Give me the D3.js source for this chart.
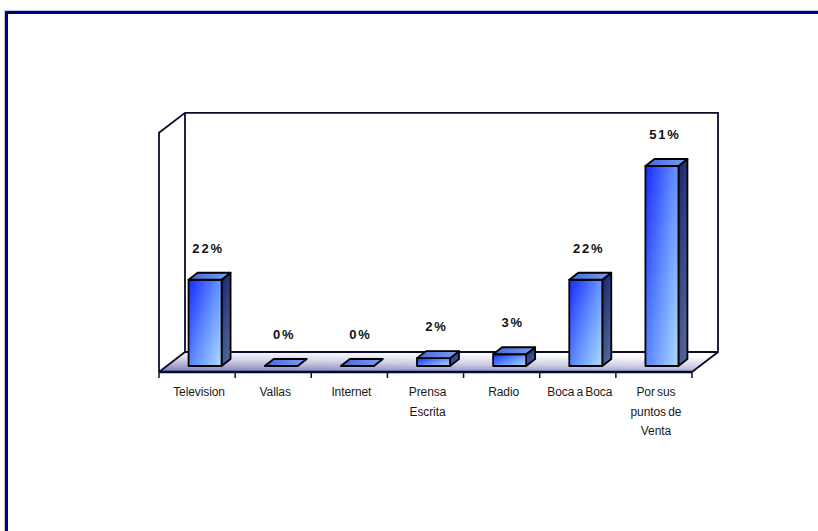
<!DOCTYPE html>
<html>
<head>
<meta charset="utf-8">
<script src="https://cdn.jsdelivr.net/npm/d3@7/dist/d3.min.js"></script>
<style>
  html, body { margin: 0; padding: 0; background: #fff; }
  svg { display: block; }
</style>
</head>
<body>
<svg id="chart" width="818" height="531"></svg>
<script>
// Survey: how customers heard about the store (share of answers)
const categories = ["Television", "Vallas", "Internet", "Prensa Escrita", "Radio", "Boca a Boca", "Por sus puntos de Venta"];
const categoryLines = [["Television"], ["Vallas"], ["Internet"], ["Prensa", "Escrita"], ["Radio"], ["Boca a Boca"], ["Por sus", "puntos de", "Venta"]];
const values = [22, 0, 0, 2, 3, 22, 51];
const valueLabels = ["22%", "0%", "0%", "2%", "3%", "22%", "51%"];

const svg = d3.select("#chart");
const defs = svg.append("defs");

// 3-D box layout
const front = { left: 159, right: 692, bottom: 372 };
const depth = { dx: 26, dy: -20 };          // floor depth (front edge -> back wall)
const barDepth = { dx: 9, dy: -7 };         // depth of each bar
const barInset = { dx: 8, dy: -6 };         // bars sit a little behind the front edge
const barWidth = 33;
const axisMax = 61;

const x = d3.scaleBand().domain(categories).range([front.left, front.right]).paddingInner(0).paddingOuter(0);
const barBase = front.bottom + barInset.dy;
const y = d3.scaleLinear().domain([0, 51]).range([barBase, barBase - 200]);
const wallHeight = barBase - y(axisMax);

// Gradients
function linGrad(id, x1, y1, x2, y2, stops) {
  const g = defs.append("linearGradient").attr("id", id)
    .attr("x1", x1).attr("y1", y1).attr("x2", x2).attr("y2", y2);
  stops.forEach(s => g.append("stop").attr("offset", s[0]).attr("stop-color", s[1]));
}
linGrad("gFront", "0", "0.1", "1", "0.9", [[0, "#1f32ff"], [0.5, "#5f8cff"], [1, "#a6d4ff"]]);
linGrad("gSide", "0", "0", "0.4", "1", [[0, "#17226e"], [1, "#4d6396"]]);
linGrad("gTop", "0", "0", "1", "0", [[0, "#4566dc"], [1, "#7d9ef0"]]);
linGrad("gFloor", "0", "1", "0.35", "0", [[0, "#7a7ab0"], [0.55, "#d0d0e6"], [1, "#ffffff"]]);

// Outer frame
svg.append("rect")
  .attr("x", 4.5).attr("y", 10.5).attr("width", 830).attr("height", 540)
  .attr("fill", "none").attr("stroke", "#c8c8d8").attr("stroke-width", 1);
svg.append("rect")
  .attr("x", 6.5).attr("y", 12.5).attr("width", 830).attr("height", 540)
  .attr("fill", "none").attr("stroke", "#000088").attr("stroke-width", 3);

const backLeft = front.left + depth.dx;
const backRight = front.right + depth.dx;
const backBottom = front.bottom + depth.dy;
const backTop = backBottom - wallHeight;

// Floor
svg.append("polygon")
  .attr("points", [[front.left, front.bottom], [backLeft, backBottom], [backRight, backBottom], [front.right, front.bottom]].join(" "))
  .attr("fill", "url(#gFloor)");

// Walls
const wallStroke = "#0c0c2a";
const wallPath = d3.path();
wallPath.moveTo(front.left, front.bottom);
wallPath.lineTo(front.left, front.bottom - wallHeight);
wallPath.lineTo(backLeft, backTop);
wallPath.lineTo(backRight, backTop);
wallPath.lineTo(backRight, backBottom);
wallPath.lineTo(front.right, front.bottom);
wallPath.moveTo(backLeft, backTop);
wallPath.lineTo(backLeft, backBottom);
wallPath.lineTo(backRight, backBottom);
wallPath.moveTo(front.left, front.bottom);
wallPath.lineTo(backLeft, backBottom);
svg.append("path").attr("d", wallPath.toString())
  .attr("fill", "none").attr("stroke", wallStroke).attr("stroke-width", 1.8)
  .attr("stroke-linejoin", "miter");

// Category axis: front edge, ticks at band boundaries
const edges = categories.map(c => x(c)).concat([front.right]);
svg.append("line")
  .attr("x1", front.left).attr("x2", front.right)
  .attr("y1", front.bottom).attr("y2", front.bottom)
  .attr("stroke", "#05053a").attr("stroke-width", 2.5);
svg.selectAll(".tick").data(edges).enter().append("line")
  .attr("x1", d => d).attr("x2", d => d)
  .attr("y1", front.bottom).attr("y2", front.bottom + 6)
  .attr("stroke", "#111").attr("stroke-width", 1.5);

const catText = svg.selectAll(".cat").data(categories).enter().append("text")
  .attr("text-anchor", "middle")
  .attr("font-family", "'Liberation Sans', Arial, sans-serif")
  .attr("font-size", 12)
  .attr("letter-spacing", "-0.1")
  .attr("word-spacing", "-1")
  .attr("fill", "#1a1a1a");
catText.each(function (c, i) {
  const t = d3.select(this);
  categoryLines[i].forEach((line, j) => {
    t.append("tspan")
      .attr("x", x(c) + x.bandwidth() / 2 + 2)
      .attr("y", front.bottom + 24 + j * 19.5)
      .text(line);
  });
});

// Bars
const bars = svg.selectAll(".bar").data(categories).enter().append("g");
bars.each(function (c, i) {
  const g = d3.select(this);
  const x0 = x(c) + (x.bandwidth() - barWidth) / 2 + barInset.dx;
  const x1 = x0 + barWidth;
  const yt = y(values[i]);
  const yb = barBase;
  const dx = barDepth.dx, dy = barDepth.dy;
  const common = s => s.attr("stroke", "#000").attr("stroke-width", 1.8).attr("stroke-linejoin", "round");
  if (values[i] > 0) {
    common(g.append("polygon")
      .attr("points", [[x1, yt], [x1 + dx, yt + dy], [x1 + dx, yb + dy], [x1, yb]].join(" "))
      .attr("fill", "url(#gSide)"));
    common(g.append("rect")
      .attr("x", x0).attr("y", yt).attr("width", barWidth).attr("height", yb - yt)
      .attr("fill", "url(#gFront)"));
  }
  common(g.append("polygon")
    .attr("points", [[x0, yt], [x0 + dx, yt + dy], [x1 + dx, yt + dy], [x1, yt]].join(" "))
    .attr("fill", "url(#gTop)"));

  svg.append("text")
    .attr("x", x0 + barWidth / 2 + 3)
    .attr("y", yt - 27)
    .attr("text-anchor", "middle")
    .attr("font-family", "'Liberation Sans', Arial, sans-serif")
    .attr("font-size", 13)
    .attr("font-weight", "bold")
    .attr("letter-spacing", "1.8")
    .attr("fill", "#111")
    .text(valueLabels[i]);
});
</script>
</body>
</html>
